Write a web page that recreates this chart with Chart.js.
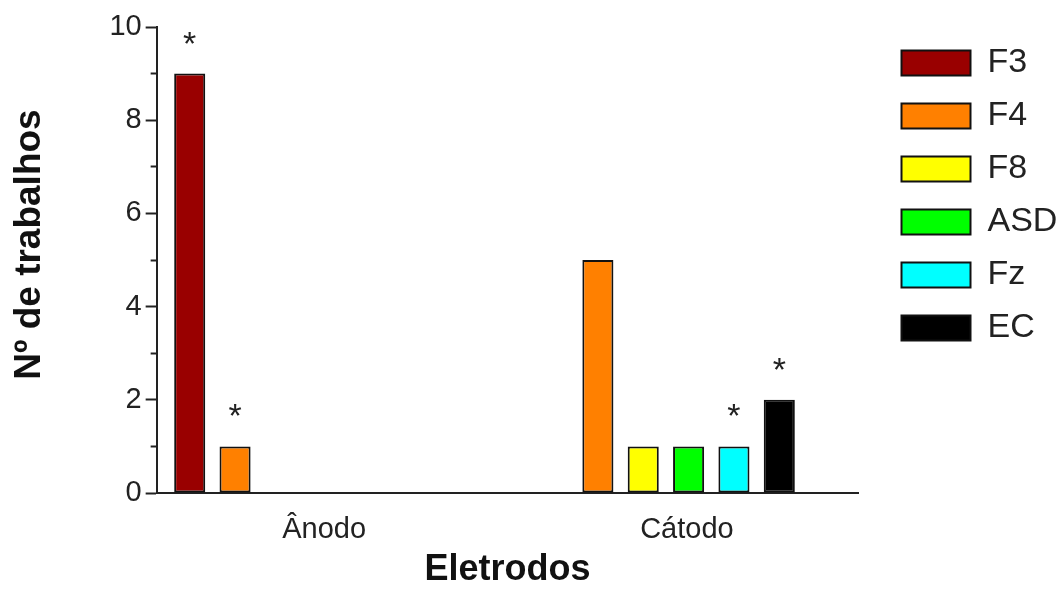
<!DOCTYPE html>
<html lang="pt">
<head>
<meta charset="UTF-8">
<title>Nº de trabalhos por eletrodo</title>
<script src="https://cdn.jsdelivr.net/npm/chart.js"></script>
<style>
  html, body { margin: 0; padding: 0; background: #fff; }
  #wrap { width: 1064px; height: 590px; position: relative; }
</style>
</head>
<body>
<div id="wrap"><canvas id="myChart"></canvas></div>
<script>
// x categories
const eletrodos = ['Ânodo', 'Cátodo'];

// one value per electrode, per montage
const seriesNames = ['F3', 'F4', 'F8', 'ASD', 'Fz', 'EC'];
const f3  = [9, 0];
const f4  = [1, 5];
const f8  = [0, 1];
const asd = [0, 1];
const fz  = [0, 1];
const ec  = [0, 2];

// asterisk above the bar
const f3Star  = [true, false];
const f4Star  = [true, false];
const f8Star  = [false, false];
const asdStar = [false, false];
const fzStar  = [false, true];
const ecStar  = [false, true];

const yMin = 0, yMax = 10;

const colors = ['#990000', '#FF8000', '#FFFF00', '#00FF00', '#00FFFF', '#000000'];
const allValues = [f3, f4, f8, asd, fz, ec];
const allStars = [f3Star, f4Star, f8Star, asdStar, fzStar, ecStar];

Chart.defaults.font.family = '"Liberation Sans", Arial, sans-serif';
Chart.defaults.color = '#222';

const datasets = seriesNames.map((name, i) => ({
  label: name,
  data: allValues[i].map((v, j) => ({ x: j, y: v })),
  backgroundColor: colors[i],
  borderColor: '#111',
  borderWidth: 2,
  borderSkipped: false
}));

// draws the * marks over the flagged bars
const starPlugin = {
  id: 'stars',
  afterDatasetsDraw(chart) {
    const ctx = chart.ctx;
    ctx.save();
    ctx.fillStyle = '#222';
    ctx.font = '34px "Liberation Sans", Arial, sans-serif';
    ctx.textAlign = 'center';
    ctx.textBaseline = 'alphabetic';
    allStars.forEach((flags, d) => {
      const meta = chart.getDatasetMeta(d);
      flags.forEach((on, j) => {
        if (!on) return;
        const bar = meta.data[j];
        ctx.fillText('*', bar.x, bar.y - 19);
      });
    });
    ctx.restore();
  }
};

const ctx = document.getElementById('myChart').getContext('2d');
const myChart = new Chart(ctx, {
  type: 'bar',
  data: { datasets: datasets },
  options: {
    responsive: true,
    maintainAspectRatio: false,
    animation: false,
    layout: { padding: { top: 27, left: 0, right: 5, bottom: 0 } },
    datasets: {
      bar: { categoryPercentage: 0.75, barPercentage: 0.685 }
    },
    plugins: {
      legend: {
        position: 'right',
        align: 'start',
        labels: {
          boxWidth: 69,
          boxHeight: 25,
          padding: 19,
          color: '#222',
          font: { size: 34 }
        }
      },
      tooltip: { enabled: false }
    },
    scales: {
      x: {
        type: 'linear',
        offset: false,
        min: -0.4036,
        max: 1.5308,
        grid: { display: false, drawTicks: false, offset: false },
        border: { color: '#222', width: 2 },
        afterBuildTicks: (s) => { s.ticks = eletrodos.map((_, i) => ({ value: i })); },
        ticks: {
          callback: (v) => eletrodos[v],
          padding: 20,
          labelOffset: 21,
          autoSkip: false,
          maxRotation: 0,
          color: '#222',
          font: { size: 29 }
        },
        title: {
          display: true,
          text: 'Eletrodos',
          color: '#111',
          padding: { top: -19, bottom: -2 },
          font: { size: 36, weight: 'bold' }
        }
      },
      y: {
        position: 'left',
        min: yMin,
        max: yMax,
        grid: {
          drawOnChartArea: false,
          tickLength: 11,
          tickWidth: 2,
          tickColor: '#222',
          // odd values get a short tick: only the inner part of the dash is drawn
          tickBorderDash: (c) => (c.tick && c.tick.value % 2 ? [6, 5] : []),
          tickBorderDashOffset: (c) => (c.tick && c.tick.value % 2 ? 6 : 0)
        },
        border: { color: '#222', width: 2 },
        ticks: {
          stepSize: 1,
          autoSkip: false,
          padding: 4,
          color: '#222',
          font: { size: 29 },
          callback: (v) => (v % 2 === 0 ? String(v) : '')
        },
        title: {
          display: true,
          text: '   Nº de trabalhos',
          color: '#111',
          padding: { top: 8, bottom: 53 },
          font: { size: 37, weight: 'bold' }
        }
      },
      gap: {
        type: 'linear',
        position: 'right',
        display: true,
        ticks: { display: false },
        grid: { display: false },
        border: { display: false },
        afterFit: (s) => { s.width = 24; }
      }
    }
  },
  plugins: [starPlugin]
});
</script>
</body>
</html>
